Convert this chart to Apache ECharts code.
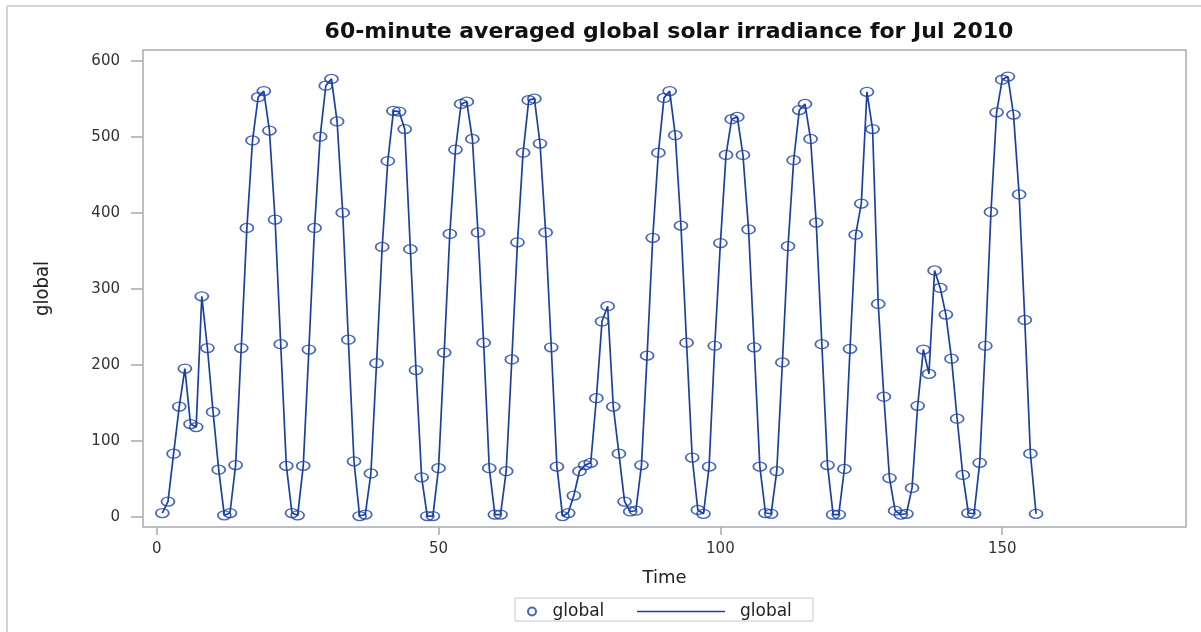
<!DOCTYPE html>
<html>
<head>
<meta charset="utf-8">
<script src="https://cdn.jsdelivr.net/npm/echarts@6/dist/echarts.min.js"></script>
<style>
html,body{margin:0;padding:0;background:#fff;}
#c{width:1201px;height:632px;}
</style>
</head>
<body>
<div id="c"></div>
<script>
const chartTitle = '60-minute averaged global solar irradiance for Jul 2010';
const time = [
  1,2,3,4,5,6,7,8,9,10,11,12,13,14,15,16,17,18,19,20,
  21,22,23,24,25,26,27,28,29,30,31,32,33,34,35,36,37,38,39,40,
  41,42,43,44,45,46,47,48,49,50,51,52,53,54,55,56,57,58,59,60,
  61,62,63,64,65,66,67,68,69,70,71,72,73,74,75,76,77,78,79,80,
  81,82,83,84,85,86,87,88,89,90,91,92,93,94,95,96,97,98,99,100,
  101,102,103,104,105,106,107,108,109,110,111,112,113,114,115,116,117,118,119,120,
  121,122,123,124,125,126,127,128,129,130,131,132,133,134,135,136,137,138,139,140,
  141,142,143,144,145,146,147,148,149,150,151,152,153,154,155,156
];
const globalValues = [
  5,20,83,145,195,122,118,290,222,138,
  62,2,5,68,222,380,495,552,560,508,
  391,227,67,5,2,67,220,380,500,567,
  576,520,400,233,73,1,3,57,202,355,
  468,534,533,510,352,193,52,1,1,64,
  216,372,483,543,546,497,374,229,64,3,
  3,60,207,361,479,548,550,491,374,223,
  66,1,5,28,60,68,71,156,257,277,
  145,83,20,7,8,68,212,367,479,551,
  560,502,383,229,78,9,4,66,225,360,
  476,523,526,476,378,223,66,5,4,60,
  203,356,469,535,543,497,387,227,68,3,
  3,63,221,371,412,559,510,280,158,51,
  8,3,4,38,146,220,188,324,301,266,
  208,129,55,5,4,71,225,401,532,575,
  579,529,424,259,83,4
];
const xTicks = [0, 50, 100, 150];
const yTicks = [0, 100, 200, 300, 400, 500, 600];
const xName = 'Time';
const yName = 'global';
const legendLabel = 'global';

const data = time.map((t, i) => [t, globalValues[i]]);
const blue = '#1a40a3';
const frame = '#a7abb0';
const ellipse = 'path://M0,5A5,5,0,1,1,10,5A5,5,0,1,1,0,5Z';
const font = "'DejaVu Sans', 'Liberation Sans', sans-serif";

const chart = echarts.init(document.getElementById('c'), null, {renderer: 'canvas'});
chart.setOption({
  animation: false,
  backgroundColor: '#ffffff',
  title: {
    text: chartTitle,
    left: 664,
    top: 16,
    textAlign: 'center',
    textStyle: {fontFamily: font, fontWeight: 'bold', fontSize: 22, color: '#111'}
  },
  grid: {left: 143, top: 50, right: 15, bottom: 105, show: true, borderColor: frame, borderWidth: 1.5},
  xAxis: {
    type: 'value', min: -2.43, max: 182.6,
    name: xName, nameLocation: 'middle', nameGap: 42,
    nameTextStyle: {fontFamily: font, fontSize: 18, color: '#222'},
    axisLine: {show: false, onZero: false},
    splitLine: {show: false},
    axisTick: {show: true, length: 8, customValues: xTicks, lineStyle: {color: frame, width: 1.5}},
    axisLabel: {customValues: xTicks, margin: 15, fontFamily: font, fontSize: 15, color: '#333'}
  },
  yAxis: {
    type: 'value', min: -13.4, max: 614,
    name: yName, nameLocation: 'middle', nameGap: 90,
    nameTextStyle: {fontFamily: "'Liberation Sans Narrow', 'DejaVu Sans Condensed', 'Liberation Sans', sans-serif", fontSize: 20, color: '#222'},
    axisLine: {show: false, onZero: false},
    splitLine: {show: false},
    axisTick: {show: true, length: 12, customValues: yTicks, lineStyle: {color: frame, width: 1.5}},
    axisLabel: {customValues: yTicks, margin: 23, fontFamily: font, fontSize: 15, color: '#333'}
  },
  legend: [
    {
      data: [{name: 'globalMarker', icon: ellipse}],
      left: 527, top: 603, padding: 0,
      itemWidth: 11, itemHeight: 8,
      formatter: () => legendLabel,
      textStyle: {fontFamily: font, fontSize: 17, color: '#222', padding: [0, 0, 0, 10]},
      selectedMode: false
    },
    {
      data: [{name: 'globalLine', icon: 'rect'}],
      left: 637, top: 603, padding: 0,
      itemWidth: 88, itemHeight: 1.6,
      formatter: () => legendLabel,
      textStyle: {fontFamily: font, fontSize: 17, color: '#222', padding: [0, 0, 0, 10]},
      selectedMode: false
    }
  ],
  graphic: [
    {type: 'line', shape: {x1: 7, y1: 6, x2: 1201, y2: 6}, style: {stroke: '#d4d4d4', lineWidth: 2}, silent: true},
    {type: 'line', shape: {x1: 7, y1: 6, x2: 7, y2: 632}, style: {stroke: '#d4d4d4', lineWidth: 2}, silent: true},
    {type: 'rect', shape: {x: 515, y: 598, width: 298, height: 23}, style: {fill: 'none', stroke: '#c9c9c9', lineWidth: 1}, silent: true}
  ],
  series: [
    {
      type: 'line', name: 'globalLine', data: data,
      symbol: 'none', lineStyle: {color: blue, width: 1.7}, itemStyle: {color: blue}, z: 2
    },
    {
      type: 'scatter', name: 'globalMarker', data: data,
      symbol: ellipse, symbolSize: [13, 9],
      itemStyle: {color: 'rgba(0,0,0,0)', borderColor: blue, borderWidth: 1.5}, z: 3
    }
  ]
});
</script>
</body>
</html>
